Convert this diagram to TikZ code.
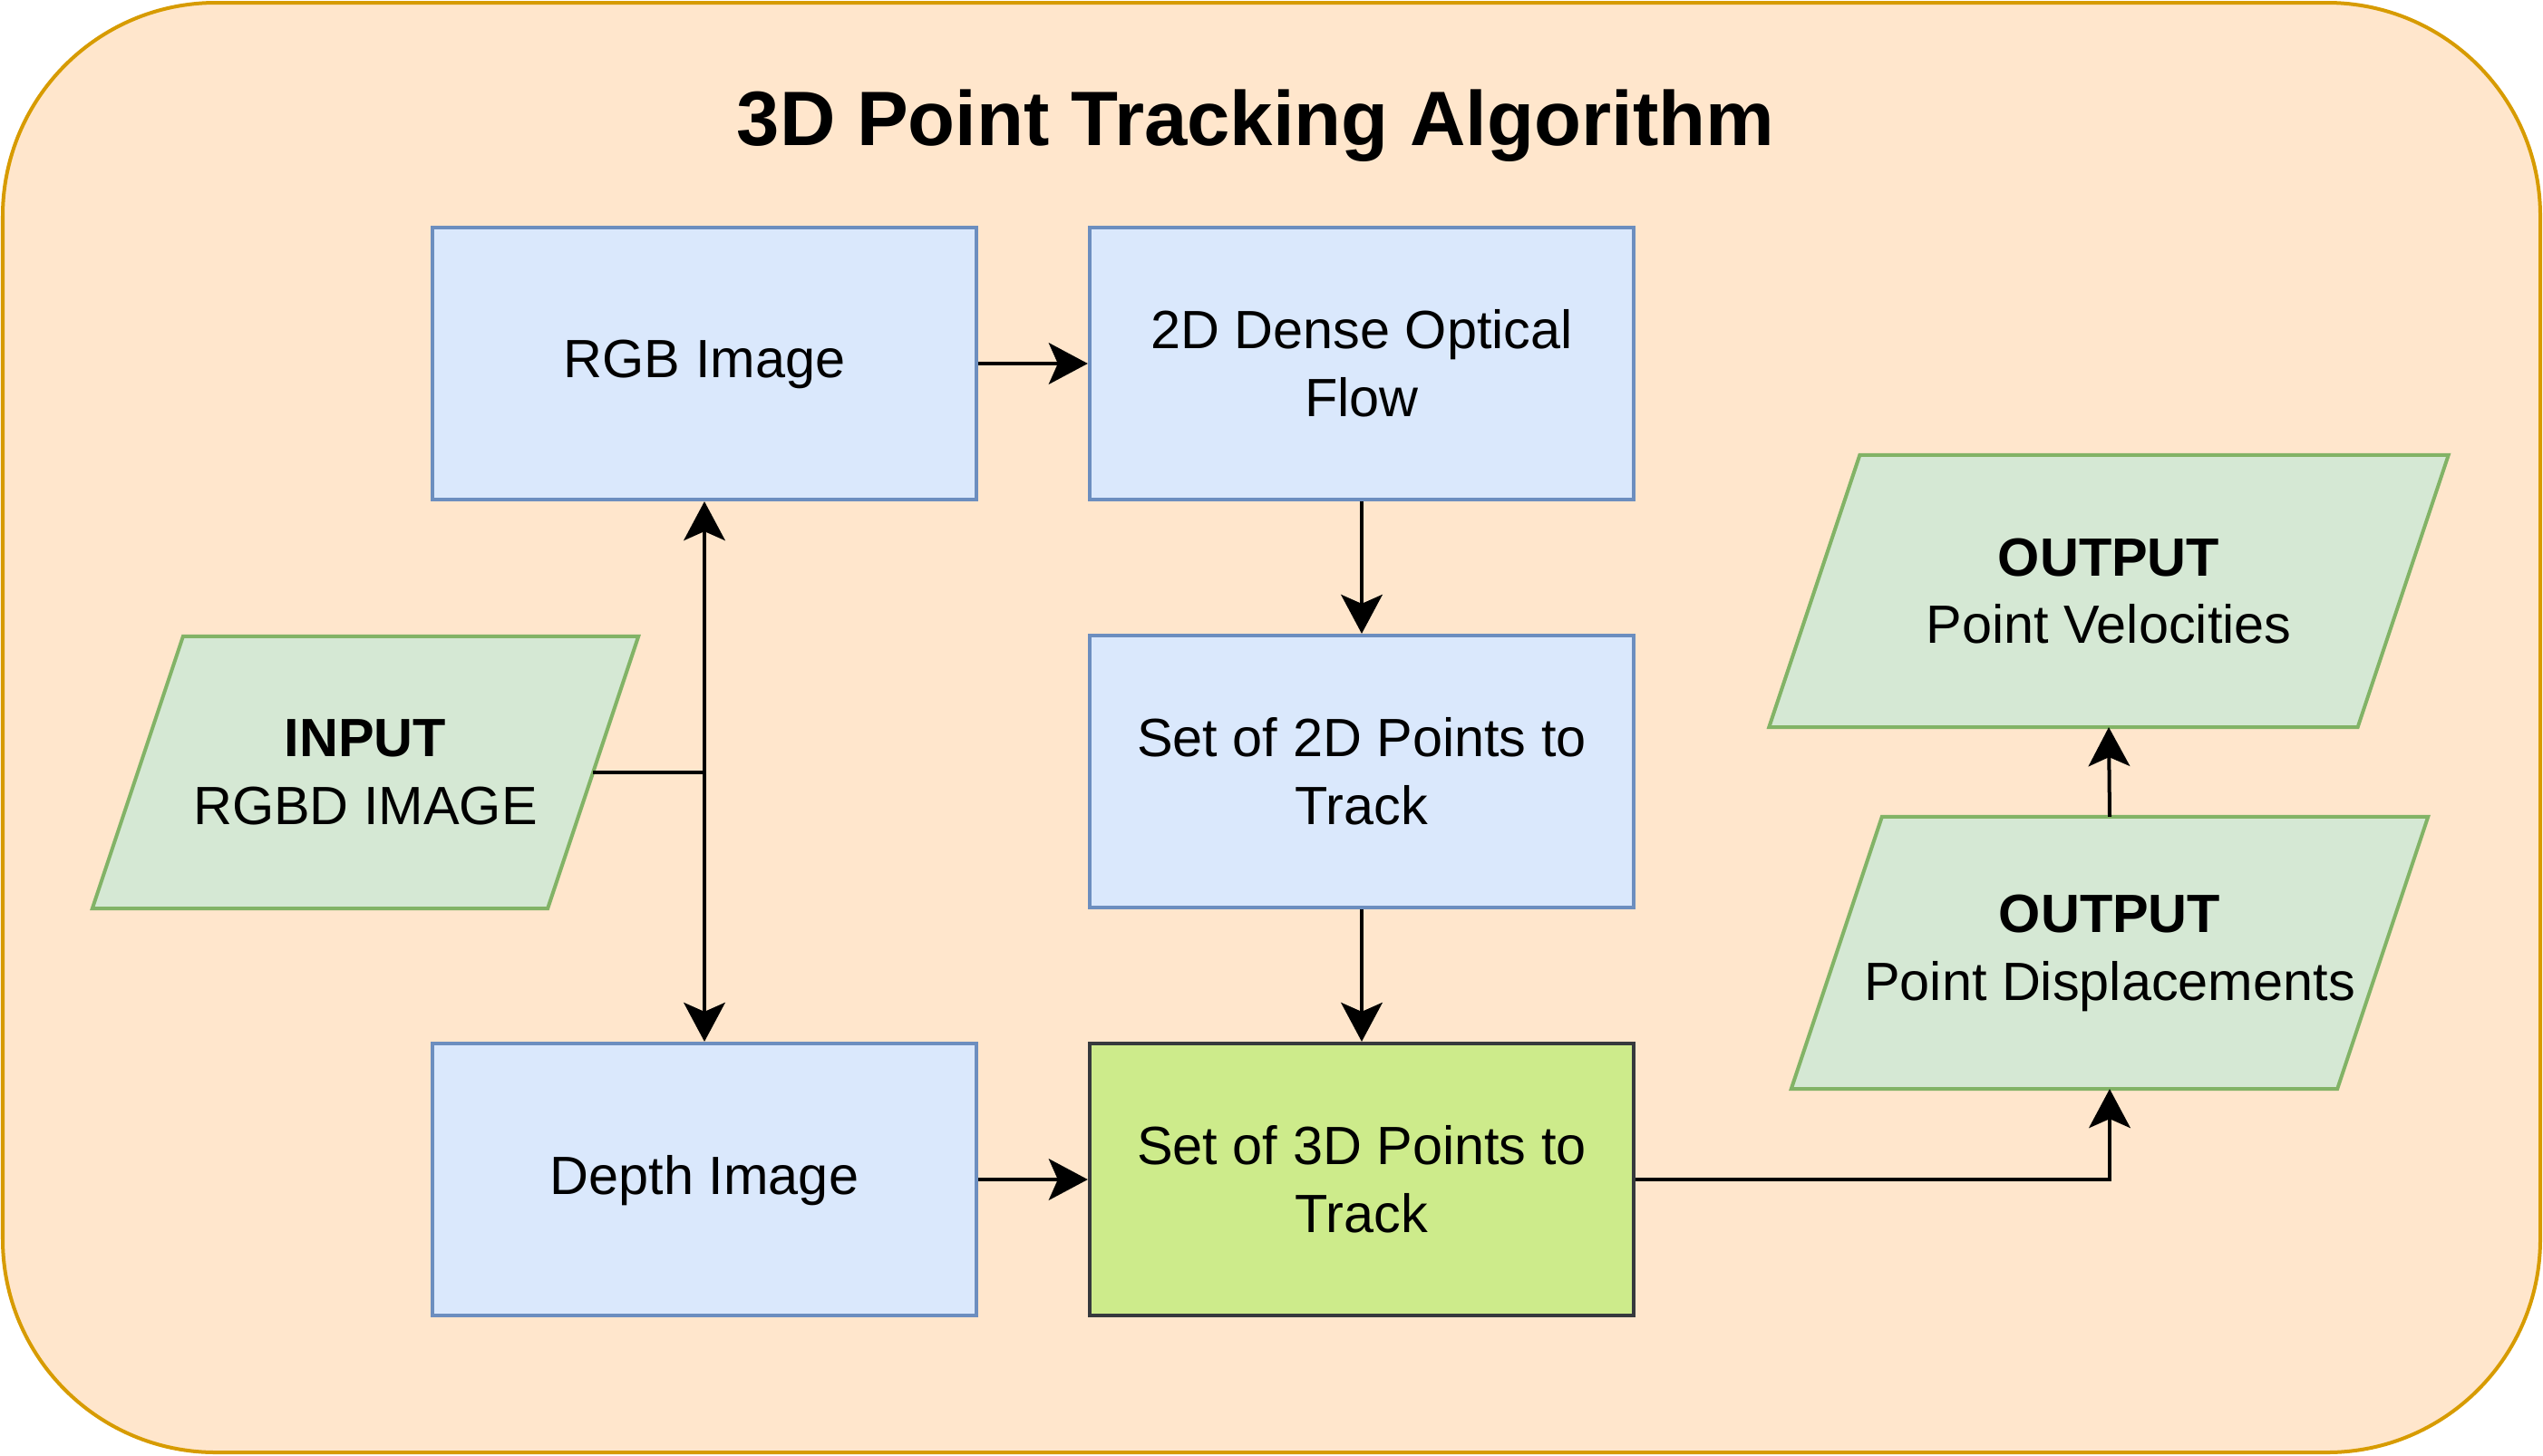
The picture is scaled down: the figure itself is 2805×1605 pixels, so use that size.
\documentclass[tikz,border=0pt]{standalone}
\usepackage{fontspec}
\setmainfont{Liberation Sans}
\usetikzlibrary{arrows.meta,backgrounds,positioning}

\definecolor{frameFill}{HTML}{FFE6CC}
\definecolor{frameLine}{HTML}{D79B00}
\definecolor{blueFill}{HTML}{DAE8FC}
\definecolor{blueLine}{HTML}{6C8EBF}
\definecolor{greenFill}{HTML}{D5E8D4}
\definecolor{greenLine}{HTML}{82B366}
\definecolor{limeFill}{HTML}{CDEB8B}
\definecolor{limeLine}{HTML}{36393D}

\begin{document}
\begin{tikzpicture}[x=0.01cm,y=-0.01cm,line width=0.04cm,
    every node/.style={font=\fontsize{16.9}{21.3}\selectfont,align=center},
    proc/.style={rectangle,draw=blueLine,fill=blueFill,
      minimum width=6cm,minimum height=3cm,inner sep=0pt},
    iobox/.style={rectangle,minimum height=3cm,inner sep=0pt,outer sep=0pt},
    ioshape/.style={draw=greenLine,fill=greenFill,line width=0.04cm},
    arr/.style={-{Stealth[length=0.43cm,width=0.456cm,inset=0.1cm]}}]

    \useasboundingbox (0,0) rectangle (2805,1605);

    % Title
    \node[anchor=base,font=\fontsize{24.2}{29}\selectfont\bfseries] (title) at (1385,160)
      {3D Point Tracking Algorithm};

    % Processing steps
    \node[proc,text depth=0.3em] (rgb)   at (777,401)   {RGB Image};
    \node[proc] (flow)  at (1502,401)  {2D Dense Optical\\Flow};
    \node[proc] (pts2d) at (1502,851)  {Set of 2D Points to\\Track};
    \node[proc,draw=limeLine,fill=limeFill] (pts3d) at (1502,1301) {Set of 3D Points to\\Track};
    \node[proc,text depth=0.3em] (depth) at (777,1301)  {Depth Image};

    % Input and outputs (width taken at mid height)
    \node[iobox,minimum width=5.02cm] (input) at (403,852)  {\textbf{INPUT}\\RGBD IMAGE};
    \node[iobox,minimum width=6.02cm] (disp)  at (2327,1051) {\textbf{OUTPUT}\\Point Displacements};
    \node[iobox,minimum width=6.49cm] (vel)   at (2326,652)  {\textbf{OUTPUT}\\Point Velocities};

    % Frame and parallelograms behind the text
    \begin{scope}[on background layer]
      \draw[draw=frameLine,fill=frameFill,line width=0.04cm,rounded corners=2.35cm]
        (3,3) rectangle (2802,1602);
      \foreach \n in {input,disp,vel}
        \draw[ioshape]
          ([xshift=0.5cm]\n.north west) -- ([xshift=0.5cm]\n.north east)
          -- ([xshift=-0.5cm]\n.south east) -- ([xshift=-0.5cm]\n.south west) -- cycle;
    \end{scope}

    % Split of the RGBD input
    \coordinate (split) at (rgb.south |- input.east);
    \draw (input.east) -- (split);
    \draw[arr] (split) -- (rgb.south);
    \draw[arr] (split) -- (depth.north);

    % Flow of the tracking
    \draw[arr] (rgb.east) -- (flow.west);
    \draw[arr] (flow.south) -- (pts2d.north);
    \draw[arr] (pts2d.south) -- (pts3d.north);
    \draw[arr] (depth.east) -- (pts3d.west);
    \draw[arr] (pts3d.east) -| (disp.south);
    \draw[arr] (disp.north) -- (vel.south);

\end{tikzpicture}
\end{document}
